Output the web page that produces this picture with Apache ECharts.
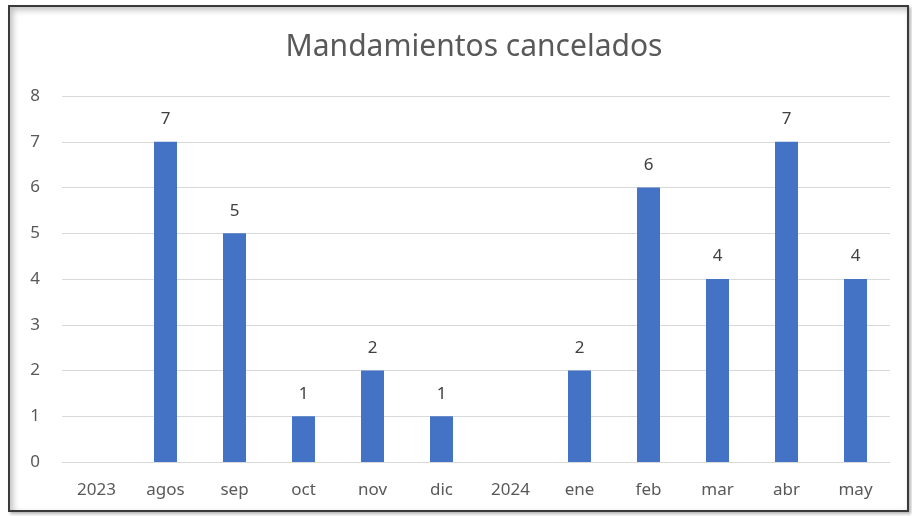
<!DOCTYPE html>
<html>
<head>
<meta charset="utf-8">
<script src="https://cdn.jsdelivr.net/npm/echarts@6/dist/echarts.min.js"></script>
<style>
  html, body { margin: 0; padding: 0; background: #fff; }
  #frame {
    position: absolute; left: 8px; top: 5px; width: 897px; height: 503px;
    border: 2px solid #3a3a3a;
    box-shadow: inset 3px 3px 6px rgba(0,0,0,0.25), 2px 2px 3px rgba(0,0,0,0.3);
  }
  #chart { position: absolute; left: 0; top: 0; width: 912px; height: 516px; }
</style>
</head>
<body>
<div id="frame"></div>
<div id="chart"></div>
<script>
const titleText = 'Mandamientos cancelados'
const categories = ['2023', 'agos', 'sep', 'oct', 'nov', 'dic', '2024', 'ene', 'feb', 'mar', 'abr', 'may']
const values = [null, 7, 5, 1, 2, 1, null, 2, 6, 4, 7, 4]

const myChart = echarts.init(document.getElementById('chart'))
const font = '"Noto Sans", sans-serif'

myChart.setOption({
    animation: false,
    title: {
        text: titleText,
        left: 469,
        textAlign: 'center',
        top: 27,
        textStyle: { fontFamily: font, fontSize: 30, fontWeight: 'normal', color: '#595959' }
    },
    grid: { left: 62, right: 22, top: 96, bottom: 54 },
    xAxis: {
        type: 'category',
        data: categories,
        axisTick: { show: false },
        axisLine: { lineStyle: { color: '#d9d9d9' } },
        axisLabel: { fontFamily: font, fontSize: 17, color: '#595959', margin: 20 }
    },
    yAxis: {
        type: 'value',
        min: 0,
        max: 8,
        interval: 1,
        axisLine: { show: false },
        axisTick: { show: false },
        axisLabel: { fontFamily: font, fontSize: 17, color: '#595959', margin: 22 },
        splitLine: { lineStyle: { color: '#d9d9d9' } }
    },
    series: [{
        type: 'bar',
        data: values,
        barWidth: 23,
        itemStyle: { color: '#4472c4' },
        label: {
            show: true,
            position: 'top',
            distance: 14,
            fontFamily: font,
            fontSize: 17,
            color: '#404040'
        }
    }]
})
</script>
</body>
</html>
